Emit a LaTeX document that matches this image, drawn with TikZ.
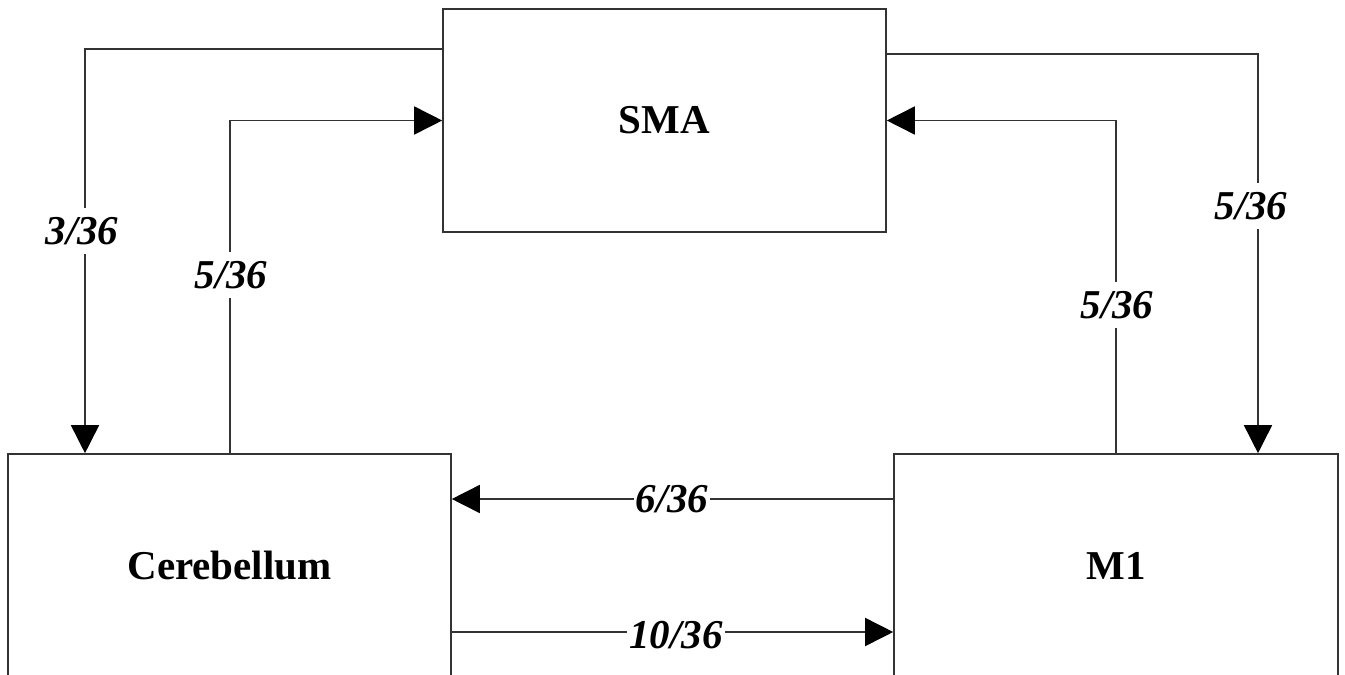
\documentclass[tikz,border=0pt]{standalone}
\usepackage{fontspec}
\setmainfont{Liberation Serif}
\usetikzlibrary{arrows.meta}
\begin{document}
\begin{tikzpicture}[x=1pt,y=-1pt,
  region/.style={draw=black!80, line width=1.6pt, inner sep=0pt,
    font=\fontsize{41}{41}\selectfont\bfseries},
  link/.style={draw=black!80, line width=1.6pt,
    -{Triangle[length=28pt,width=28pt,color=black]}},
  ratio/.style={fill=white, inner xsep=2pt, inner ysep=9pt,
    font=\fontsize{41}{41}\selectfont\bfseries\itshape}]
\useasboundingbox (0,0) rectangle (1345,675);
\clip (0,0) rectangle (1345,675);

% brain regions
\node[region, minimum width=443pt, minimum height=223pt] (sma) at (664.5,120.5) {SMA};
\node[region, minimum width=443pt, minimum height=223pt] (cb)  at (229.5,565.5) {Cerebellum};
\node[region, minimum width=444pt, minimum height=223pt] (m1)  at (1116,565.5) {M1};

% connections
\draw[link] (sma.west |- 0,49) -| (85,0 |- cb.north);
\draw[link] (230,0 |- cb.north) |- (sma.west);
\draw[link] (sma.east |- 0,54) -| (1258,0 |- m1.north);
\draw[link] (1116,0 |- m1.north) |- (sma.east);
\draw[link] (m1.west |- 0,499) -- (cb.east |- 0,499);
\draw[link] (cb.east |- 0,632) -- (m1.west |- 0,632);

% connection weights
\node[ratio] (w1) at (82,231)   {3/36};
\node[ratio] (w2) at (231,275)  {5/36};
\node[ratio] (w3) at (1251,206) {5/36};
\node[ratio] (w4) at (1117,305) {5/36};
\node[ratio] (w5) at (672,499)  {6/36};
\node[ratio] (w6) at (676,635)  {10/36};
\end{tikzpicture}
\end{document}
